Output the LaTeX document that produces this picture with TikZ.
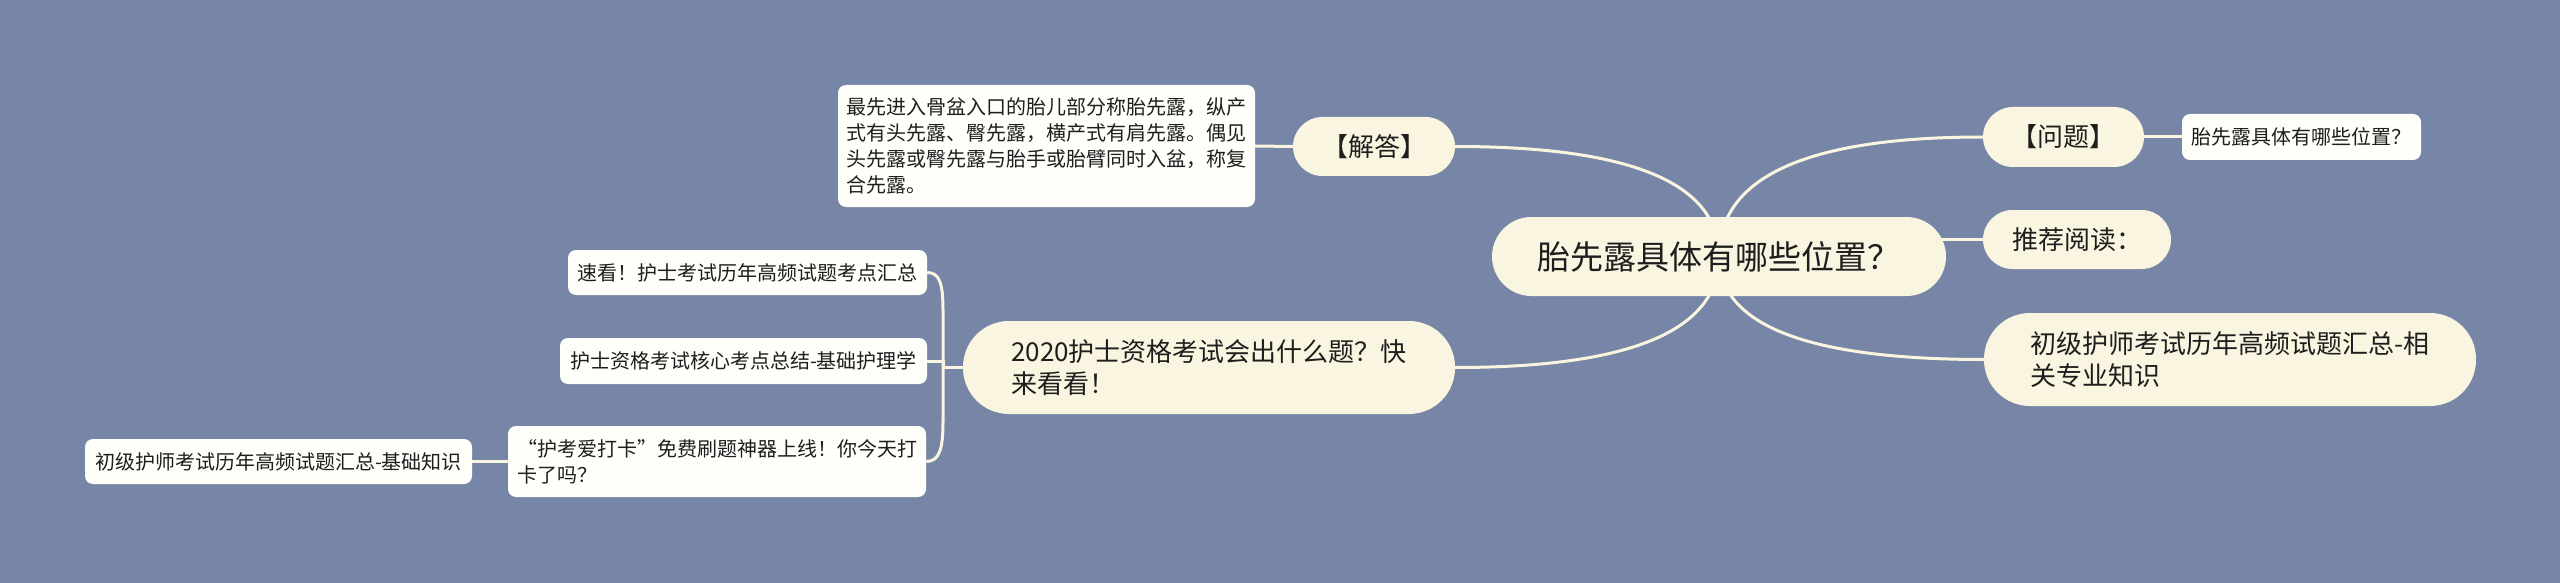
\documentclass[tikz,border=0pt]{standalone}
\usepackage{fontspec}
\setmainfont{Noto Sans CJK SC}
\usetikzlibrary{calc}
\definecolor{bgc}{HTML}{7785A6}
\definecolor{cream}{HTML}{FAF5E0}
\definecolor{leafc}{HTML}{FEFEFA}
\definecolor{txt}{HTML}{1E1E1E}
\newcommand{\fwq}[1]{{\addfontfeatures{CharacterWidth=Full}#1}}
\pgfdeclarelayer{bgfill}
\pgfdeclarelayer{links}
\pgfsetlayers{bgfill,links,main}
\begin{document}
\begin{tikzpicture}[x=1pt,y=-1pt,
  rootbox/.style={fill=cream, rounded corners=39.5pt, minimum width=454pt, minimum height=79pt, inner sep=0pt, text=txt, font=\fontsize{33}{40}\selectfont},
  lonebox/.style={fill=cream, inner sep=0pt, text=txt, font=\fontsize{26}{32}\selectfont, align=left},
  leafbox/.style={fill=leafc, rounded corners=8pt, inner sep=0pt, text=txt, font=\fontsize{20}{26}\selectfont, align=left},
  link/.style={draw=cream, line width=3pt},
]
\begin{pgfonlayer}{bgfill}
\fill[bgc] (0,0) rectangle (2560,583);
\end{pgfonlayer}
\useasboundingbox (0,0) rectangle (2560,583);

% nodes
\node[rootbox] (root) at (1719,256.5) {胎先露具体有哪些位置？};
\node[lonebox, rounded corners=30pt, minimum width=161pt, minimum height=60pt] (q) at (2063.5,137) {【问题】};
\node[leafbox, minimum width=239pt, minimum height=46pt] (qa) at (2301.5,137) {胎先露具体有哪些位置？};
\node[lonebox, rounded corners=29.5pt, minimum width=162pt, minimum height=59pt] (ans) at (1374,146.5) {【解答】};
\node[leafbox, minimum width=417pt, minimum height=122pt] (ansbox) at (1046.5,146) {最先进入骨盆入口的胎儿部分称胎先露，纵产\\式有头先露、臀先露，横产式有肩先露。偶见\\头先露或臀先露与胎手或胎臂同时入盆，称复\\合先露。};
\node[lonebox, rounded corners=29.5pt, minimum width=188pt, minimum height=59pt] (rec) at (2077,239.5) {推荐阅读：};
\node[lonebox, rounded corners=46pt, minimum width=492pt, minimum height=93pt] (jr) at (2230,359.5) {初级护师考试历年高频试题汇总-相\\关专业知识};
\node[lonebox, rounded corners=46pt, minimum width=492pt, minimum height=93pt] (e2020) at (1209,367.5) {2020护士资格考试会出什么题？快\\来看看！};
\node[leafbox, minimum width=359pt, minimum height=45pt] (s1) at (747.5,272.5) {速看！护士考试历年高频试题考点汇总};
\node[leafbox, minimum width=367pt, minimum height=46pt] (s2) at (743.5,361) {护士资格考试核心考点总结-基础护理学};
\node[leafbox, minimum width=418pt, minimum height=71pt] (s3) at (717,461.5) {\fwq{“}护考爱打卡\fwq{”}免费刷题神器上线！你今天打\\卡了吗？};
\node[leafbox, minimum width=387pt, minimum height=45pt] (s4) at (278.5,461.5) {初级护师考试历年高频试题汇总-基础知识};
\coordinate (lj) at (943,367.5);

% links
\begin{pgfonlayer}{links}
\draw[link] (root.center) .. controls ($(root.center)!2/3!(root.center |- q.west)$) and ($(q.west)!2/3!(root.center |- q.west)$) .. (q.west);
\draw[link] (root.center) .. controls ($(root.center)!2/3!(root.center |- ans.east)$) and ($(ans.east)!2/3!(root.center |- ans.east)$) .. (ans.east);
\draw[link] (root.center) .. controls ($(root.center)!2/3!(root.center |- e2020.east)$) and ($(e2020.east)!2/3!(root.center |- e2020.east)$) .. (e2020.east);
\draw[link] (root.center) .. controls ($(root.center)!2/3!(root.center |- jr.west)$) and ($(jr.west)!2/3!(root.center |- jr.west)$) .. (jr.west);
\draw[link] (root.center |- rec.west) -- (rec.west);
\draw[link] (q.east) -- (qa.west);
\draw[link] (ans.west) -- (ansbox.east);
\draw[link] (e2020.west) -- (lj);
\draw[link] (lj) -- ($(lj |- s1.east)+(0,38)$) .. controls ($(lj |- s1.east)+(0,12)$) and ($(lj |- s1.east)+(-3,0)$) .. (s1.east);
\draw[link] (lj) -- (lj |- s2.east) -- (s2.east);
\draw[link] (lj) -- ($(lj |- s3.east)+(0,-40)$) .. controls ($(lj |- s3.east)+(0,-14)$) and ($(lj |- s3.east)+(-3,0)$) .. (s3.east);
\draw[link] (s3.west) -- (s4.east);
\end{pgfonlayer}
\end{tikzpicture}
\end{document}
